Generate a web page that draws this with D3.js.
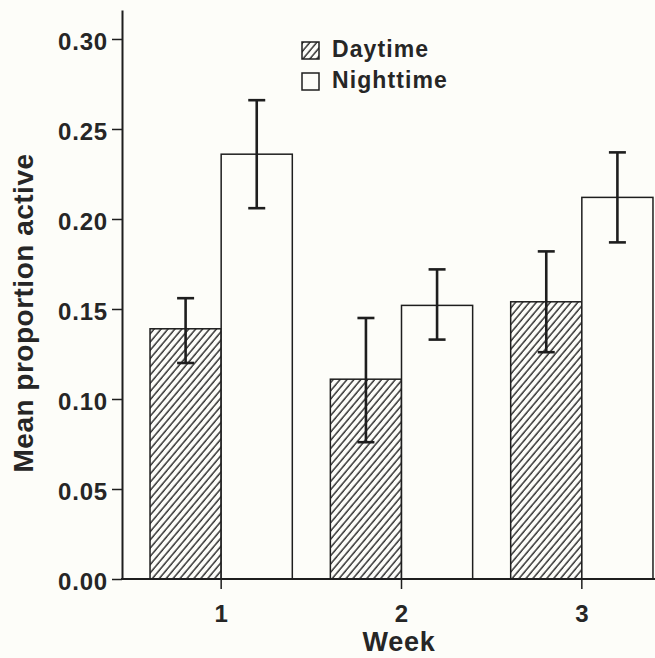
<!DOCTYPE html>
<html lang="en">
<head>
<meta charset="UTF-8">
<title>Mean proportion active</title>
<script src="https://d3js.org/d3.v7.min.js"></script>
<style>
  body { margin: 0; background: #fdfdf9; }
  svg text { font-family: "Liberation Sans", Arial, sans-serif; font-weight: bold; fill: #262626; }
</style>
</head>
<body>
<div id="chart"></div>
<script>
// data
var weeks = ["1", "2", "3"];
var series = ["Daytime", "Nighttime"];
var dayMean = [0.139, 0.111, 0.154];
var dayLow = [0.120, 0.076, 0.126];
var dayHigh = [0.156, 0.145, 0.182];
var nightMean = [0.236, 0.152, 0.212];
var nightLow = [0.206, 0.133, 0.187];
var nightHigh = [0.266, 0.172, 0.237];
var yTicks = [0, 0.05, 0.10, 0.15, 0.20, 0.25, 0.30];

var width = 655, height = 658;
var ink = "#1e1e1e";

var svg = d3.select("#chart").append("svg")
    .attr("width", width)
    .attr("height", height);

// hatch for daytime bars
var defs = svg.append("defs");
defs.append("pattern")
    .attr("id", "hatch")
    .attr("patternUnits", "userSpaceOnUse")
    .attr("width", 5.3)
    .attr("height", 10)
    .attr("patternTransform", "rotate(40)")
  .append("line")
    .attr("x1", 1).attr("x2", 1)
    .attr("y1", 0).attr("y2", 10)
    .attr("stroke", ink)
    .attr("stroke-width", 1.35);

var x = d3.scaleBand()
    .domain(weeks)
    .range([131, 672])
    .paddingInner(0.211)
    .paddingOuter(0.1055);

var xSub = d3.scaleBand()
    .domain(series)
    .range([0, x.bandwidth()]);

var y = d3.scaleLinear()
    .domain([0, 0.3161])
    .range([579, 10]);

var rows = weeks.map(function (w, i) {
  return [
    {week: w, s: "Daytime", v: dayMean[i], lo: dayLow[i], hi: dayHigh[i]},
    {week: w, s: "Nighttime", v: nightMean[i], lo: nightLow[i], hi: nightHigh[i]}
  ];
}).flat();

// bars
svg.append("g")
  .selectAll("rect")
  .data(rows)
  .enter()
  .append("rect")
    .attr("x", function (d) { return x(d.week) + xSub(d.s); })
    .attr("y", function (d) { return y(d.v); })
    .attr("width", xSub.bandwidth())
    .attr("height", function (d) { return y(0) - y(d.v); })
    .attr("fill", function (d) { return d.s === "Daytime" ? "url(#hatch)" : "#fdfdf9"; })
    .attr("stroke", ink)
    .attr("stroke-width", 1.5);

// error bars
var eb = svg.append("g")
  .selectAll("g")
  .data(rows)
  .enter()
  .append("g")
    .attr("stroke", ink)
    .attr("stroke-width", 2.6);

function cx(d) { return x(d.week) + xSub(d.s) + xSub.bandwidth() / 2; }

eb.append("line")
    .attr("x1", cx).attr("x2", cx)
    .attr("y1", function (d) { return y(d.lo); })
    .attr("y2", function (d) { return y(d.hi); });
eb.append("line")
    .attr("x1", function (d) { return cx(d) - 8.5; })
    .attr("x2", function (d) { return cx(d) + 8.5; })
    .attr("y1", function (d) { return y(d.hi); })
    .attr("y2", function (d) { return y(d.hi); });
eb.append("line")
    .attr("x1", function (d) { return cx(d) - 8.5; })
    .attr("x2", function (d) { return cx(d) + 8.5; })
    .attr("y1", function (d) { return y(d.lo); })
    .attr("y2", function (d) { return y(d.lo); });

// y axis
var yAxis = svg.append("g")
    .attr("transform", "translate(122,0)")
    .call(d3.axisLeft(y).tickValues(yTicks).tickFormat(d3.format(".2f"))
      .tickSize(10).tickSizeOuter(0).tickPadding(4));
yAxis.select(".domain").attr("stroke", ink).attr("stroke-width", 2);
yAxis.selectAll(".tick line").attr("stroke", ink).attr("stroke-width", 1.5);
yAxis.selectAll(".tick text")
    .attr("dy", "0.45em")
    .style("font-size", "24px")
    .style("letter-spacing", "0.8px")
    .attr("fill", "#262626");

// x axis
var xAxis = svg.append("g")
    .attr("transform", "translate(0,579)")
    .call(d3.axisBottom(x).tickSize(10).tickSizeOuter(0).tickPadding(16));
xAxis.select(".domain").remove();
xAxis.selectAll(".tick line").attr("stroke", ink).attr("stroke-width", 1.5);
xAxis.selectAll(".tick text")
    .style("font-size", "24px")
    .attr("fill", "#262626");
svg.append("line")
    .attr("x1", 121).attr("x2", width)
    .attr("y1", 579).attr("y2", 579)
    .attr("stroke", ink)
    .attr("stroke-width", 2);

// axis titles
svg.append("text")
    .attr("x", 399)
    .attr("y", 651)
    .attr("text-anchor", "middle")
    .style("font-size", "27px")
    .style("letter-spacing", "0.8px")
    .text("Week");

svg.append("text")
    .attr("transform", "translate(33,313) rotate(-90)")
    .attr("text-anchor", "middle")
    .style("font-size", "28px")
    .style("letter-spacing", "0.5px")
    .text("Mean proportion active");

// legend
var legend = svg.append("g")
  .selectAll("g")
  .data(series)
  .enter()
  .append("g")
    .attr("transform", function (d, i) { return "translate(302," + (42 + i * 31) + ")"; });
legend.append("rect")
    .attr("width", 17)
    .attr("height", 17)
    .attr("fill", function (d) { return d === "Daytime" ? "url(#hatch)" : "#fdfdf9"; })
    .attr("stroke", ink)
    .attr("stroke-width", 1.5);
legend.append("text")
    .attr("x", 30)
    .attr("y", 15)
    .style("font-size", "23px")
    .style("letter-spacing", "1.1px")
    .text(function (d) { return d; });
</script>
</body>
</html>
